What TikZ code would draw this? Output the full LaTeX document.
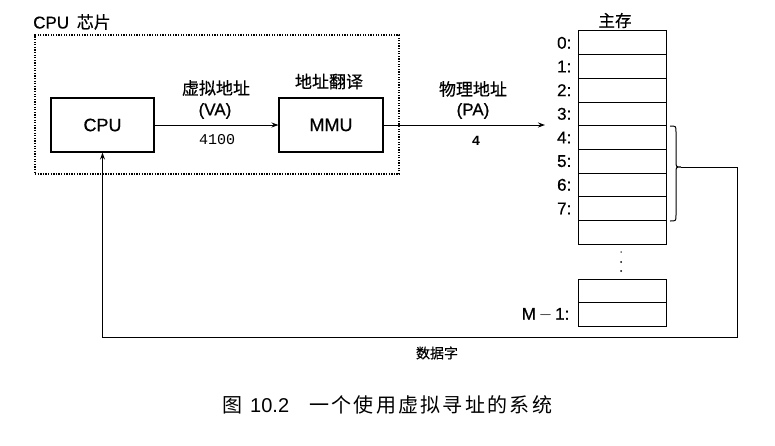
\documentclass[tikz,border=0pt]{standalone}
\usepackage{fontspec}
\setmainfont{Liberation Sans}[FakeBold=0.6]
\setmonofont{Liberation Mono}
\newfontfamily\cjk{Noto Sans CJK SC}[FakeBold=0.5]
\newfontfamily\capcjk{Noto Sans CJK SC}
\newfontfamily\capfont{Liberation Sans}
\usetikzlibrary{arrows.meta}
\begin{document}
\begin{tikzpicture}[x=1pt,y=-1pt,
  box/.style={draw, line width=1.1pt, inner sep=0pt, minimum width=103pt, minimum height=54pt, font=\fontsize{18}{18}\selectfont},
  chip/.style={draw, line width=1.4pt, dash pattern=on 1.3pt off 1.3pt, inner sep=0pt, minimum width=364pt, minimum height=139pt},
  memcell/.style={draw, line width=1pt, inner sep=0pt, minimum width=88pt, minimum height=23.67pt},
  lbl/.style={anchor=east, inner sep=0pt, font=\fontsize{17}{17}\selectfont},
  txt/.style={inner sep=0pt, font=\fontsize{17}{17}\selectfont},
  zh/.style={inner sep=0pt, font=\fontsize{17}{17}\selectfont\cjk},
  mono/.style={inner sep=0pt, font=\fontsize{15}{15}\selectfont\ttfamily},
  conn/.style={line width=1pt, -{Stealth[length=7pt,width=5pt]}},
  dotmark/.style={circle, fill, inner sep=0pt, minimum size=2pt}
]
\useasboundingbox (0,0) rectangle (775,445);

% chip frame
\node[chip] (chip) at (217,104.5) {};
\node[anchor=west, inner sep=0pt, font=\fontsize{17}{17}\selectfont] (chiplbl) at (33,22) {CPU\hspace{3pt} {\cjk 芯片}};

% CPU and MMU
\node[box] (cpu) at (102.5,125) {CPU};
\node[box, minimum width=104pt] (mmu) at (331,125) {MMU};

% VA labels
\node[zh] (vazh) at (216,88) {虚拟地址};
\node[txt] (va) at (215,111) {(VA)};
\node[mono] (vanum) at (217,139.5) {4100};
\node[zh] (mmulbl) at (329,81.5) {地址翻译};

% PA labels
\node[zh] (pazh) at (473,89) {物理地址};
\node[txt] (pa) at (473,111) {(PA)};
\node[mono, font=\fontsize{14}{14}\selectfont\ttfamily\bfseries] (panum) at (476,141) {4};

% main memory
\node[zh, font=\fontsize{16.5}{16.5}\selectfont\cjk] (memlbl) at (615,20.5) {主存};
\foreach \i in {0,...,8} {
  \node[memcell] (m\i) at (622,42.83+23.667*\i) {};
}
\foreach \i in {0,...,7} {
  \node[lbl] (l\i) at ([xshift=-6pt]m\i.west) {\i:};
}
\node[memcell] (ma) at (622,291) {};
\node[memcell] (mb) at (622,314.6) {};
\node[lbl] (lm) at ([xshift=-8pt]mb.west) {M$\,-\,$1:};

\node[dotmark, minimum size=1.5pt] (d1) at (621,252) {};
\node[dotmark] (d2) at (621,262) {};
\node[dotmark] (d3) at (621,271) {};

% arrows
\coordinate (paend) at (545,125);
\draw[conn] (cpu.east) -- (mmu.west);
\draw[conn] (mmu.east) -- (paend);

% brace
\coordinate (bt) at (681,167);
\draw[line width=1pt] (670,126) .. controls (676,126) .. (676,132) -- (676,161)
  .. controls (676,167) .. (bt) .. controls (676,167) .. (676,173) -- (676,215)
  .. controls (676,221) .. (670,221);

% data word return
\coordinate (c1) at (737,167);
\coordinate (c2) at (737,337);
\draw[conn] (bt) -- (c1) -- (c2) -| (cpu.south);
\node[zh, font=\fontsize{14}{14}\selectfont\cjk] (dw) at (437,353) {数据字};

% caption
\node[anchor=west, inner sep=0pt, font=\fontsize{20}{20}\selectfont\capfont] (cap) at (222,405)
  {{\capcjk 图}\hspace{8pt}10.2\hspace{20pt}{\capcjk 一\hspace{2.3pt}个\hspace{2.3pt}使\hspace{2.3pt}用\hspace{2.3pt}虚\hspace{2.3pt}拟\hspace{2.3pt}寻\hspace{2.3pt}址\hspace{2.3pt}的\hspace{2.3pt}系\hspace{2.3pt}统}};
\end{tikzpicture}
\end{document}
